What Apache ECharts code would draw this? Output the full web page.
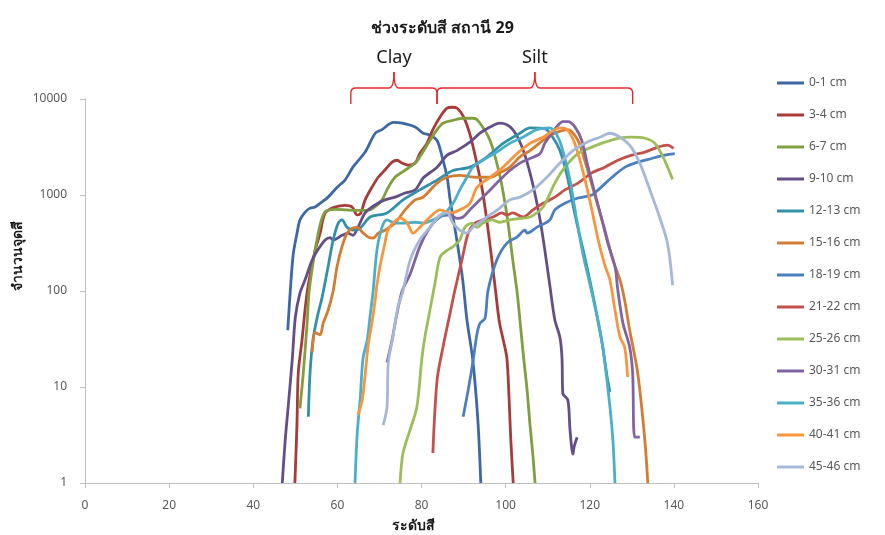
<!DOCTYPE html>
<html>
<head>
<meta charset="utf-8">
<script src="https://cdn.jsdelivr.net/npm/echarts@6/dist/echarts.min.js"></script>
<style>
  html, body { margin: 0; padding: 0; background: #fff; }
  #chart { width: 885px; height: 535px; }
</style>
</head>
<body>
<div id="chart"></div>
<script>
// ---------------- DATA ----------------
const chartTitle = 'ช่วงระดับสี สถานี 29';
const xAxisTitle = 'ระดับสี';
const yAxisTitle = 'จำนวนจุดสี';
const xTicks = [0, 20, 40, 60, 80, 100, 120, 140, 160];
const yTicks = [1, 10, 100, 1000, 10000];

const seriesNames = ['0-1 cm', '3-4 cm', '6-7 cm', '9-10 cm', '12-13 cm', '15-16 cm',
  '18-19 cm', '21-22 cm', '25-26 cm', '30-31 cm', '35-36 cm', '40-41 cm', '45-46 cm'];

const d0_1 = [[48.2,39],[48.8,100],[49.5,240],[50.4,400],[51.1,550],[52.3,660],[53.5,730],[54.7,750],
  [55.9,820],[57.8,950],[59.9,1200],[61.8,1430],[63.7,1950],[66.6,2800],[69,4400],[70.6,4800],
  [73.3,5700],[75.4,5600],[78.5,5100],[80.4,4400],[82,4200],[83.7,3700],[84.9,2500],[86.1,1530],
  [86.8,890],[88.4,340],[89.8,130],[90.8,50],[92.2,19],[93.4,4.5],[94.1,1]];
const d3_4 = [[49.9,1],[50.4,4.2],[50.7,14],[51.6,31],[52.3,63],[53,110],[54.7,265],[55.9,400],
  [57.1,650],[59.5,750],[61.8,780],[63.5,750],[64.7,620],[65.5,640],[66.6,890],[68.2,1200],
  [69.7,1530],[71.3,1820],[73,2200],[74.2,2300],[75.4,2150],[76.8,2050],[78.5,2150],[79.6,2700],
  [81.3,3450],[82.7,4800],[84.4,6500],[86,8000],[87.3,8200],[88.5,8000],[90,6500],[91.5,4300],
  [93,2300],[94.5,1100],[96,380],[97.5,110],[98.5,48],[99.5,30],[100.3,20],[100.8,8],[101.2,3],[101.8,1]];
const d6_7 = [[51.1,6],[51.9,14],[52.8,46],[53.3,100],[54.7,265],[55.9,490],[57.1,670],[59.5,710],
  [62,700],[65,690],[67.7,700],[68.9,750],[70.6,890],[72.1,1200],[73.7,1530],[75.4,1730],[76.8,1900],
  [78.5,2150],[79.6,2500],[82,3700],[83.7,4800],[85.1,5600],[87.5,6000],[89.9,6300],[92.2,6300],
  [93.5,5900],[96.3,3700],[98.6,1600],[100.3,620],[101.7,210],[102.7,100],[103.4,50],[104.1,24],
  [105.1,9.3],[105.8,4],[106.5,1.9],[107,1]];
const d9_10 = [[46.9,1],[47.6,2.8],[48.3,6.2],[49.3,20],[50,53],[51.1,95],[52.3,130],[54,210],
  [55.4,270],[57.1,340],[58.3,360],[59,340],[61.1,380],[62.5,400],[63.7,380],[64.9,460],[66.6,650],
  [69,790],[71.3,890],[73.7,950],[76.1,1050],[78.5,1130],[80.4,1500],[83.7,1950],[86.1,2600],
  [88.4,2900],[91.5,3550],[93.9,4400],[96.3,5100],[98.6,5600],[100.3,5400],[101.7,4800],[103,3900],
  [104.6,2600],[106.5,1270],[108.2,550],[109.3,270],[110.5,115],[111.7,50],[112.9,33],[113.4,20],
  [113.6,8.6],[114.8,7.3],[115.3,3.6],[116,2],[116.3,2.4],[117,3]];
const d12_13 = [[53.1,4.9],[53.5,14],[54.2,31],[55.2,53],[56.4,87],[57.8,180],[59,340],[60.2,510],
  [61.1,550],[62.3,460],[63.7,430],[65.4,450],[67.8,590],[71.8,650],[75.6,890],[79.6,1130],
  [83.7,1430],[87.5,1800],[91.5,1950],[95.6,2500],[99.4,3450],[103.4,4400],[105.8,5000],[109.3,4900],
  [111.2,4000],[112.9,2900],[114.6,1600],[116.5,620],[118.4,270],[120,130],[121.7,56],[123.1,26],
  [124.1,13],[124.8,8.9]];
const d15_16 = [[54,23],[54.7,37],[55.9,35],[56.6,46],[57.8,63],[59,100],[59.9,178],[61.1,290],
  [62.3,400],[63.5,450],[64.7,460],[65.9,410],[67.3,365],[68.5,355],[69.7,400],[71.3,430],[73.7,510],
  [76.1,700],[78.5,890],[80.4,950],[83.7,1330],[86.1,1530],[89.1,1600],[93.2,1530],[96.3,1530],
  [98.6,1700],[101,1950],[103.4,2500],[105.8,2900],[108.9,3700],[111.7,4400],[114.8,4800],
  [117.2,3700],[118.8,2300],[121.2,1000],[123.6,430],[125.5,210],[127.2,130],[128.3,80],[129.5,39],
  [131.4,14],[133.1,2.8],[133.8,1]];
const d18_19 = [[89.9,4.9],[91.1,9.3],[92.2,18],[93.2,36],[93.9,46],[95.1,52],[95.8,100],[97.9,210],
  [100.3,315],[102.7,365],[104.6,430],[105.1,400],[107.4,460],[110.5,550],[111.7,700],[114.1,820],
  [117.2,930],[120.5,1000],[122,1130],[125.3,1530],[128.4,1950],[131.4,2200],[134.7,2400],
  [137.8,2600],[140.2,2700]];
const d21_22 = [[82.7,2.05],[83.7,11.8],[85.1,26],[86.8,59],[87.9,100],[89.6,210],[91.1,400],
  [92.7,510],[94.6,550],[97,590],[99.1,650],[100.3,620],[101.7,650],[104.1,590],[106.5,700],
  [108.9,820],[111.7,950],[114.1,1130],[117.2,1330],[120.5,1700],[123.6,1950],[126.7,2300],
  [130,2600],[133.1,2800],[136.2,3150],[138.5,3300],[139.9,3050]];
const d25_26 = [[74.9,1],[75.6,2.05],[77.3,3.6],[78.9,6.2],[80.1,20],[80.8,33],[82,63],[83.2,120],
  [84.4,225],[86.1,265],[87.5,290],[89.1,340],[90.3,460],[92,510],[93.2,460],[94.6,510],[96.7,550],
  [98.6,520],[101,550],[103.4,570],[105.8,590],[108.9,750],[111.7,1330],[114.1,1950],[117.2,2700],
  [120.5,3150],[123.6,3550],[126.7,3900],[130,4000],[133.1,3900],[135.5,3450],[137.8,2300],[139.7,1450]];
const d30_31 = [[71.8,18],[73,31],[74.2,59],[75.4,100],[77.3,150],[79.6,290],[82,460],[84.4,590],
  [86.8,620],[88.4,570],[89.9,590],[91.5,700],[93.9,890],[96.3,1130],[98.6,1430],[101,1800],
  [103.4,2150],[105.8,2400],[108.2,2700],[109.3,3450],[111,4400],[112.4,5300],[113.6,5800],
  [114.8,5800],[116.5,5100],[118.1,3700],[119.6,1950],[121.2,1050],[122.9,550],[124.3,315],
  [126,180],[126.7,100],[127.9,46],[129.5,26],[130.2,14],[130.7,3],[131.9,3]];
const d35_36 = [[64.2,1],[64.7,3.2],[65.4,7.3],[66.1,20],[67.1,31],[67.8,56],[68.5,100],[69.4,265],
  [70.6,460],[71.8,550],[73.7,510],[76.1,510],[78.5,520],[80.4,510],[82.7,550],[85.1,620],[87.5,820],
  [89.1,1130],[90.8,1530],[92.2,1950],[94.6,2300],[97.9,2800],[101,3450],[104.1,4000],[107.4,4800],
  [110.5,5000],[112.2,4200],[113.6,2900],[115.3,1430],[116.9,550],[118.4,240],[120,120],[121.7,56],
  [123.1,26],[124.8,6.2],[125.5,2.8],[126,1]];
const d40_41 = [[64.9,5.1],[65.9,7.3],[66.6,13.3],[67.3,27],[68.2,46],[69,81],[69.4,115],[70.1,178],
  [71.3,315],[72,430],[73.2,510],[74.9,575],[76.6,510],[78,400],[79.6,460],[82,590],[84.4,700],
  [86.8,650],[89.1,700],[91.5,820],[93.2,1200],[96.3,1530],[99.4,1950],[102.7,2700],[105.8,3450],
  [108.9,4000],[111.7,4800],[112.9,5000],[114.6,4800],[115.8,4000],[117,2900],[118.9,1430],
  [120.5,700],[122,340],[123.6,185],[124.8,130],[126,63],[127.2,33],[128.3,26],[129,12.7]];
const d45_46 = [[70.9,4],[71.8,6.2],[72.1,18],[73.2,33],[73.7,46],[74.4,68],[75.6,100],[77.3,210],
  [79.6,340],[82,460],[84.4,620],[86.1,650],[87.5,510],[89.1,430],[90.8,400],[92.2,460],[94.6,550],
  [97,650],[98.6,730],[101,890],[103.4,950],[106.5,1130],[109.8,1530],[112.9,2150],[116,2900],
  [119.3,3550],[122.4,4000],[124.8,4400],[127.2,4000],[129.5,3300],[131.9,2150],[134.3,1130],
  [136.6,590],[138.3,340],[139,225],[139.7,115]];

const seriesData = [d0_1, d3_4, d6_7, d9_10, d12_13, d15_16, d18_19, d21_22, d25_26, d30_31, d35_36, d40_41, d45_46];

// annotation ranges (in x-axis units)
const clayRange = [63.2, 83.7];
const siltRange = [83.7, 130.2];
const clayLabel = 'Clay';
const siltLabel = 'Silt';

// ---------------- STYLE ----------------
const colors = ['#3C69A5', '#A63B38', '#7F9F40', '#654E86', '#3291A9', '#D27C34',
  '#4B7FBF', '#C4504C', '#9CBE59', '#7F63A3', '#4BAFC8', '#F7963F', '#A6B8D7'];

const chart = echarts.init(document.getElementById('chart'), null, { renderer: 'canvas' });

const baseFont = '"Noto Sans", "DejaVu Sans", sans-serif';

const option = {
  animation: false,
  backgroundColor: '#ffffff',
  color: colors,
  title: {
    text: chartTitle,
    left: 'center',
    top: 15,
    textStyle: { fontFamily: baseFont, fontSize: 16, fontWeight: 'bold', color: '#1a1a1a' }
  },
  legend: {
    orient: 'vertical',
    left: 777,
    top: 77,
    padding: 0,
    icon: 'rect',
    itemWidth: 27,
    itemHeight: 3,
    itemGap: 20,
    data: seriesNames,
    textStyle: { fontFamily: baseFont, fontSize: 12, color: '#595959' }
  },
  grid: { left: 85, right: 127, top: 99, bottom: 52, containLabel: false, outerBoundsMode: 'none' },
  xAxis: {
    type: 'value',
    min: xTicks[0],
    max: xTicks[xTicks.length - 1],
    interval: 20,
    axisLine: { show: true, lineStyle: { color: '#BFBFBF', width: 1 } },
    axisTick: { show: true, length: 5, lineStyle: { color: '#BFBFBF' } },
    axisLabel: { fontFamily: baseFont, fontSize: 12, color: '#595959', margin: 17 },
    splitLine: { show: false }
  },
  yAxis: {
    type: 'log',
    logBase: 10,
    min: yTicks[0],
    max: yTicks[yTicks.length - 1],
    axisLine: { show: true, lineStyle: { color: '#BFBFBF', width: 1 } },
    axisTick: { show: true, length: 5, lineStyle: { color: '#BFBFBF' } },
    axisLabel: {
      fontFamily: baseFont, fontSize: 12, color: '#595959', margin: 18,
      formatter: v => String(Math.round(v))
    },
    splitLine: { show: false },
    minorTick: { show: false }
  },
  series: seriesNames.map((name, i) => ({
    name: name,
    type: 'line',
    data: seriesData[i],
    symbol: 'none',
    showSymbol: false,
    smooth: 0.3,
    clip: true,
    lineStyle: { width: 2.8, color: colors[i] },
    itemStyle: { color: colors[i] },
    z: 2 + i
  }))
};

chart.setOption(option);

// ---------------- ANNOTATIONS (axis titles, braces) ----------------
function px(v) { return chart.convertToPixel({ xAxisIndex: 0 }, v); }

const braceStyle = { stroke: '#E8262B', lineWidth: 1.4, fill: null };
function seg(x1, y1, x2, y2) {
  return { type: 'line', shape: { x1: x1, y1: y1, x2: x2, y2: y2 }, style: braceStyle, z: 100 };
}
function curve(x1, y1, cx, cy, x2, y2) {
  return { type: 'bezierCurve', shape: { x1: x1, y1: y1, cpx1: cx, cpy1: cy, x2: x2, y2: y2 }, style: braceStyle, z: 100 };
}

const braces = [
  { range: clayRange, label: clayLabel },
  { range: siltRange, label: siltLabel }
];
const graphics = [];
const by = 104, hy = 88, ty = 72, r = 5;
braces.forEach(b => {
  const xa = px(b.range[0]);
  const xb = px(b.range[1]);
  const xm = (xa + xb) / 2;
  graphics.push(seg(xa, by, xa, hy + r));
  graphics.push(curve(xa, hy + r, xa, hy, xa + r, hy));
  graphics.push(seg(xa + r, hy, xm - r, hy));
  graphics.push(curve(xm - r, hy, xm, hy, xm, ty));
  graphics.push(curve(xm, ty, xm, hy, xm + r, hy));
  graphics.push(seg(xm + r, hy, xb - r, hy));
  graphics.push(curve(xb - r, hy, xb, hy, xb, hy + r));
  graphics.push(seg(xb, hy + r, xb, by));
  graphics.push({
    type: 'text',
    x: xm,
    y: 58,
    style: {
      text: b.label,
      fontFamily: baseFont,
      fontSize: 18,
      fill: '#1a1a1a',
      align: 'center',
      verticalAlign: 'middle'
    },
    z: 100
  });
});
// axis titles
graphics.push({
  type: 'text',
  x: 18,
  y: 256,
  rotation: Math.PI / 2,
  style: {
    text: yAxisTitle,
    fontFamily: baseFont,
    fontSize: 14,
    fontWeight: 'bold',
    fill: '#1a1a1a',
    align: 'center',
    verticalAlign: 'middle'
  },
  z: 100
});
graphics.push({
  type: 'text',
  x: 413,
  y: 526,
  style: {
    text: xAxisTitle,
    fontFamily: baseFont,
    fontSize: 14,
    fontWeight: 'bold',
    fill: '#1a1a1a',
    align: 'center',
    verticalAlign: 'middle'
  },
  z: 100
});
chart.setOption({ graphic: graphics });
</script>
</body>
</html>
